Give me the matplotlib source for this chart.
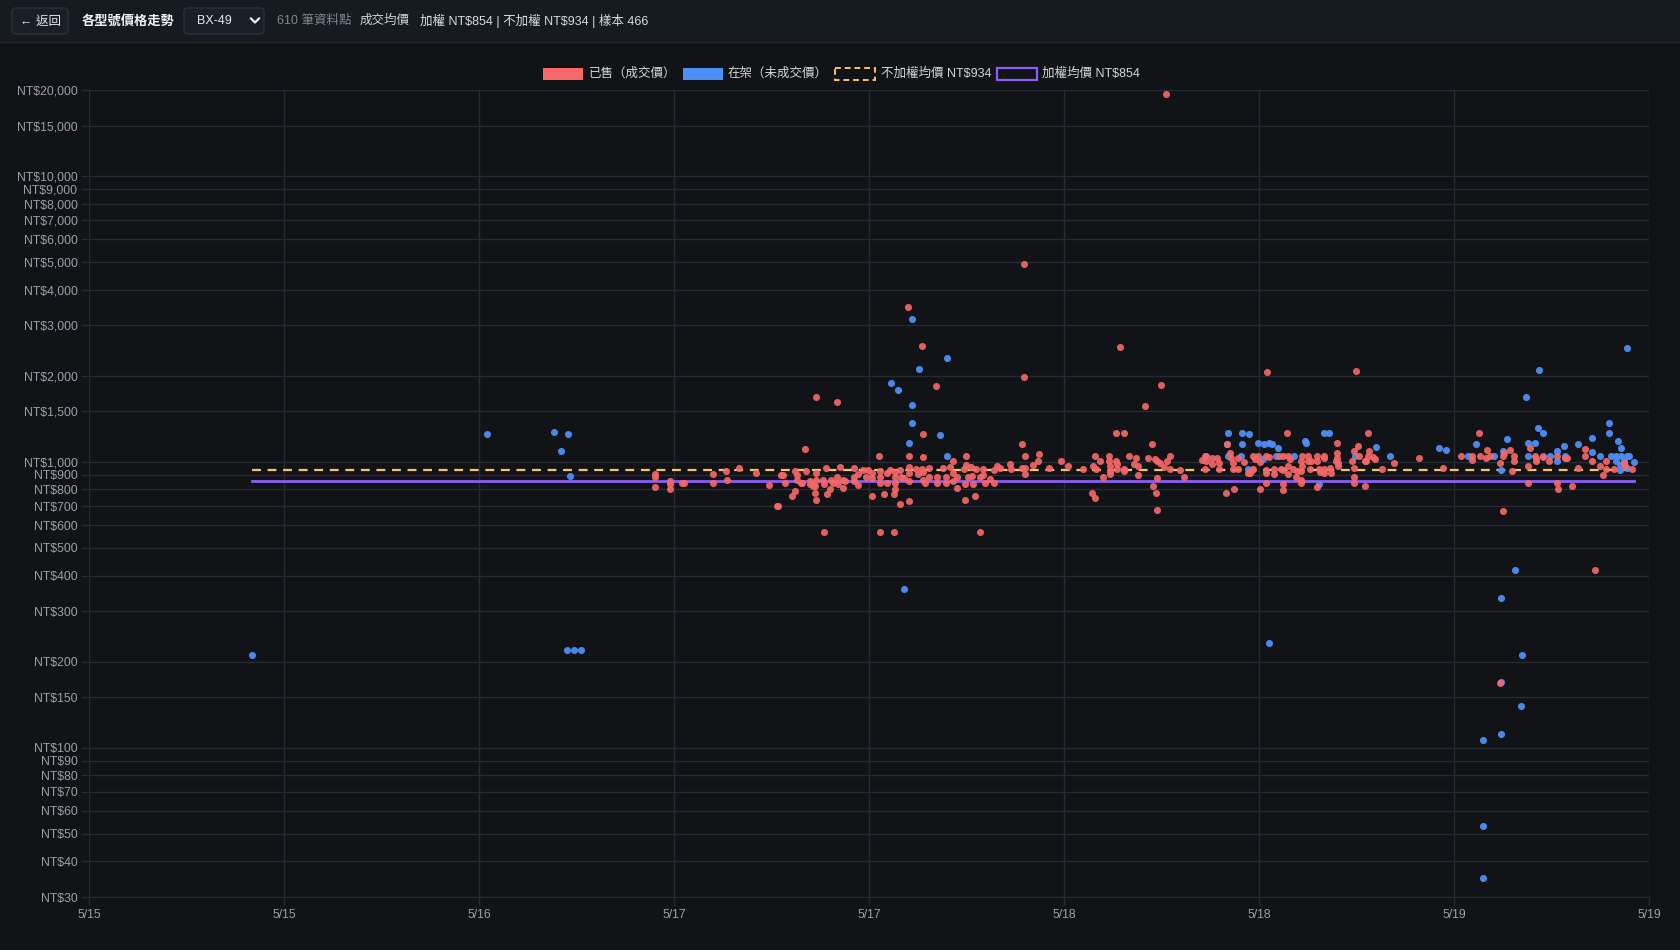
import numpy as np
import matplotlib
matplotlib.use('Agg')
import matplotlib.pyplot as plt
from matplotlib.patches import Rectangle, FancyBboxPatch
from matplotlib.ticker import FixedLocator, FuncFormatter, NullLocator

plt.rcParams['font.family'] = ['Liberation Sans', 'Noto Sans CJK TC', 'DejaVu Sans']

# ---- data (hours since 5/15 00:00, price in NT$) ----
sold_hours = [
    83.3, 73.1, 64.8, 65.8, 73.1, 66.8, 80.0, 90.6, 97.0, 83.0, 81.8, 58.2,
    59.7, 58.8, 62.8, 63.8, 70.0, 107.5, 114.1, 82.7, 55.5, 107.3, 65.9,
    46.6, 46.6, 46.6, 47.7, 47.7, 47.7, 48.6, 48.7, 50.8, 50.8, 51.7, 51.8,
    52.7, 53.9, 54.8, 55.4, 55.7, 55.8, 56.0, 56.7, 56.8, 56.8, 56.7, 56.5,
    57.4, 57.5, 57.1, 57.2, 57.8, 57.8, 58.0, 58.2, 58.1, 58.1, 58.2, 58.2,
    58.7, 58.8, 58.9, 59.0, 59.2, 59.3, 59.4, 59.7, 59.8, 59.9, 60.1, 60.1, 60.3,
    62.7, 64.9, 65.9, 69.0, 68.0, 73.0, 73.2, 74.2, 74.1, 73.8, 72.1, 72.2,
    73.0, 73.2, 73.2, 74.9, 60.9, 60.9, 60.9, 61.2, 61.2, 61.6, 61.8, 61.9,
    62.2, 62.2, 62.2, 62.8, 62.8, 62.8, 63.3, 63.3, 63.1, 63.5, 63.9, 63.9,
    63.9, 63.9, 63.8, 64.2, 64.3, 64.2, 64.5, 64.9, 64.9, 64.9, 64.9, 65.4,
    65.5, 65.8, 65.9, 65.9, 66.0, 66.3, 66.3, 66.9, 66.9, 67.3, 67.5, 67.5,
    67.8, 68.0, 68.0, 68.3, 68.3, 68.8, 68.9, 68.9, 69.0, 69.1, 69.3, 69.4,
    69.6, 69.5, 69.7, 70.0, 70.2, 70.2, 70.3, 70.7, 71.0, 71.0, 71.2, 71.4,
    75.8, 76.3, 77.4, 78.0, 78.2, 78.2, 78.1, 78.3, 78.6, 78.8, 79.2, 79.2,
    79.3, 79.3, 79.3, 79.7, 80.3, 79.7, 79.8, 79.8, 80.3, 80.3, 80.7, 81.0,
    81.2, 81.3, 81.3, 82.0, 82.3, 82.4, 82.5, 82.7, 82.9, 82.6, 82.7, 83.2,
    83.4, 83.6, 83.6, 84.3, 84.6, 85.9, 86.1, 86.1, 86.2, 86.6, 86.6, 87.0,
    87.1, 87.1, 87.6, 88.2, 87.7, 87.9, 88.0, 88.1, 88.1, 88.5, 88.5, 88.9, 89.2,
    92.0, 97.8, 95.6, 97.1, 96.8, 89.6, 89.7, 89.9, 90.1, 89.6, 89.35, 89.5,
    90.1, 90.5, 90.7, 90.5, 90.5, 90.5, 91.1, 91.1, 91.45, 91.7, 91.6, 91.7,
    91.7, 91.7, 92.1, 92.2, 92.1, 92.1, 92.45, 92.7, 92.65, 93.1, 93.05, 93.1,
    93.05, 93.05, 93.05, 93.5, 93.5, 93.7, 93.65, 94.2, 94.2, 94.3, 94.4, 94.2,
    94.65, 94.7, 94.65, 94.65, 95.1, 95.2, 95.6, 95.6, 95.7, 95.7, 95.55, 96.7,
    96.8, 96.8, 96.8, 97.2, 97.6, 97.7, 97.9, 97.8, 97.6, 98.2, 98.3, 98.8,
    99.7, 101.5, 103.2,
    104.5, 105.3, 105.3, 105.8, 105.9, 106.3, 106.4, 106.6, 107.3, 107.5, 107.6, 108.0,
    108.2, 108.3, 108.3, 109.3, 109.3, 109.45, 109.85, 109.9, 109.9, 110.4, 110.85, 111.4,
    111.4, 111.45, 111.95, 112.1, 112.45, 112.9, 113.4, 113.4, 113.9, 114.5, 114.7, 114.9,
    114.9, 115.5, 116.2, 116.25, 116.8,
]
sold_prices = [
    19300, 4930, 3490, 2540, 1980, 1840, 2520, 2070, 2080, 1860, 1570, 1680,
    1620, 566, 566, 566, 566, 673, 419, 678, 702, 168, 1255,
    905, 885, 818, 860, 833, 806, 845, 845, 909, 842, 927, 865,
    948, 915, 829, 700, 898, 898, 842, 927, 898, 865, 790, 759,
    1111, 927, 842, 842, 856, 838, 822, 911, 822, 779, 738, 865,
    865, 833, 948, 773, 800, 865, 845, 885, 833, 957, 810, 865, 854,
    1052, 1052, 1037, 1052, 1010, 1156, 1052, 1062, 1010, 974, 985, 946,
    948, 948, 905, 948, 948, 885, 854, 831, 907, 937, 885, 937,
    915, 879, 759, 930, 885, 845, 911, 845, 769, 937, 920, 885,
    845, 804, 773, 937, 883, 714, 879, 957, 915, 854, 728, 946,
    905, 946, 865, 918, 845, 948, 885, 845, 885, 948, 885, 845,
    957, 915, 854, 885, 808, 946, 738, 833, 972, 885, 957, 889,
    759, 833, 946, 885, 941, 898, 845, 869, 845, 934, 966, 948,
    1010, 970, 946, 779, 750, 1052, 966, 946, 1010, 883, 1052, 1010,
    970, 930, 907, 1263, 1263, 1010, 985, 941, 946, 927, 1052, 985,
    1033, 970, 898, 1033, 1156, 822, 1025, 1005, 990, 779, 877, 957,
    1010, 1047, 946, 939, 887, 1018, 1052, 946, 1005, 1033, 985, 1033,
    993, 946, 779, 804, 1156, 1075, 1033, 993, 946, 1033, 946, 1000, 915,
    1263, 1263, 1165, 1133, 1095, 1052, 1020, 1052, 997, 941, 915, 934,
    800, 1052, 1042, 937, 911, 845, 946, 905, 1052, 1052, 946, 937,
    837, 795, 1052, 1020, 966, 905, 946, 927, 885, 1052, 1010, 966,
    927, 865, 845, 1052, 1010, 1010, 946, 1052, 1010, 946, 920, 818,
    1052, 1033, 946, 915, 948, 915, 1075, 1033, 993, 966, 1010, 1010,
    952, 885, 845, 1052, 1010, 1010, 1095, 1052, 822, 1040, 1025, 946,
    993, 1030, 948,
    1052, 1047, 1015, 1263, 1052, 1030, 1100, 1052, 990, 1052, 1075, 1100,
    927, 1052, 1005, 842, 970, 1122, 1052, 1003, 1030, 1040, 1010, 1052,
    845, 804, 1033, 1030, 820, 948, 1052, 1111, 1010, 966, 896, 1003,
    946, 946, 993, 966, 946,
]

listed_hours = [
    17.7, 34.6, 39.4, 40.4, 39.9, 40.5, 40.3, 40.8, 41.3, 65.1, 65.6, 67.6,
    63.6, 64.1, 65.1, 65.1, 67.1, 64.9, 64.5, 67.6, 90.7, 109.2, 110.1, 116.4,
    108.4, 107.4, 108.9, 107.4, 108.8, 106.1, 107.4, 106.1, 106.1,
    87.8, 88.8, 89.3, 88.8, 87.7, 88.7, 87.8, 89.2, 86.2,
    89.9, 90.35, 90.7, 90.9, 91.4, 93.3, 93.4, 94.7, 95.0, 98.4, 99.4, 102.9,
    103.4, 91.2, 92.5, 90.3, 94.3, 96.9,
    105.0, 105.6, 106.9, 107.5, 107.8, 107.4, 109.3, 109.3, 109.8, 110.0, 110.4, 110.4,
    110.9, 111.4, 111.4, 111.9, 112.0, 112.9, 113.9, 113.9, 114.5, 115.1, 115.1, 115.75,
    116.0, 115.3, 115.6, 116.0, 116.4, 116.6, 115.6, 115.9, 115.9, 116.2, 116.4, 116.95,
]
listed_prices = [
    210, 1250, 1270, 1250, 1090, 894, 219, 219, 219, 3150, 2120, 2310,
    1890, 1780, 1580, 1370, 1240, 1160, 358, 1050, 233, 1680, 2100, 2510,
    419, 334, 210, 169, 140, 106, 112, 53, 35,
    1263, 1263, 1250, 1156, 1156, 1052, 1052, 946, 1052,
    1165, 1156, 1165, 1156, 1122, 1182, 1165, 1263, 1263, 1125, 1052, 1117,
    1100, 1052, 1052, 1025, 833, 1052,
    1052, 1156, 1052, 1090, 1205, 934, 1165, 1052, 1165, 1315, 1263, 1052,
    1052, 1090, 1010, 1133, 1052, 1153, 1210, 1085, 1052, 1369, 1263, 1185,
    1117, 1052, 1052, 1052, 1052, 1052, 1010, 974, 934, 1005, 952, 997,
]

weighted_avg = 854
unweighted_avg = 934
sample_n = 466
total_points = 610
model = "BX-49"

y_ticks = [30, 40, 50, 60, 70, 80, 90, 100, 150, 200, 300, 400, 500, 600, 700,
           800, 900, 1000, 1500, 2000, 3000, 4000, 5000, 6000, 7000, 8000,
           9000, 10000, 15000, 20000]
x_ticks = [6, 20, 34, 48, 62, 76, 90, 104, 118]
x_tick_labels = ["5/15", "5/15", "5/16", "5/17", "5/17", "5/18", "5/18", "5/19", "5/19"]

# ---- style ----
BG = "#111317"
HEADER_BG = "#161a21"
GRID = "#272b35"
TICK_TXT = "#9aa0a9"
LEG_TXT = "#d3d6db"
RED = "#f86868"
BLUE = "#4d8ef8"
YELLOW = "#f5c46a"
PURPLE = "#8b5cf6"

W, H = 1680, 950
fig = plt.figure(figsize=(W / 100, H / 100), dpi=100, facecolor=BG)

# main plot area (pixel box 89..1649 x 90..897)
ax = fig.add_axes([89 / W, 1 - 897 / H, 1560 / W, 807 / H])
ax.set_facecolor(BG)
ax.set_yscale('log')
ax.set_ylim(30, 20000)
ax.set_xlim(6, 118)

ax.yaxis.set_major_locator(FixedLocator(y_ticks))
ax.yaxis.set_minor_locator(NullLocator())
ax.yaxis.set_major_formatter(FuncFormatter(lambda v, p: f"NT${int(round(v)):,}"))
ax.set_xticks(x_ticks)
ax.set_xticklabels(x_tick_labels)
ax.xaxis.set_minor_locator(NullLocator())

ax.grid(True, color=GRID, linewidth=1.0)
ax.set_axisbelow(True)
ax.tick_params(axis='both', colors=GRID, labelcolor=TICK_TXT, labelsize=8.8,
               length=5.8, width=1.0, pad=2.5)
for side in ['top', 'right']:
    ax.spines[side].set_visible(False)
for side in ['left', 'bottom']:
    ax.spines[side].set_color(GRID)

# average lines across the data span
all_h = np.array(sold_hours + listed_hours)
x_span = [all_h.min(), all_h.max()]
ax.plot(x_span, [unweighted_avg] * 2, color=YELLOW, linewidth=1.6,
        dashes=(4, 3), zorder=2)
ax.plot(x_span, [weighted_avg] * 2, color=PURPLE, linewidth=2.0, zorder=2)

ax.scatter(listed_hours, listed_prices, s=26, color=BLUE, alpha=0.95,
           linewidths=0, zorder=3)
ax.scatter(sold_hours, sold_prices, s=26, color=RED, alpha=0.9,
           linewidths=0, zorder=4)

# ---- overlay for header and legend (pixel coordinates) ----
ov = fig.add_axes([0, 0, 1, 1])
ov.set_xlim(0, W)
ov.set_ylim(H, 0)
ov.axis('off')
ov.patch.set_alpha(0)

ov.add_patch(Rectangle((0, 0), W, 42, facecolor=HEADER_BG, edgecolor='none'))
ov.plot([0, W], [42, 42], color="#252a33", linewidth=1)

ov.add_patch(FancyBboxPatch((12, 8), 56, 26, boxstyle="round,pad=0,rounding_size=4",
                            facecolor="#1a1e26", edgecolor="#2b303a", linewidth=1))
ov.text(40, 21.5, "← 返回", color="#e2e4e8", fontsize=9, ha='center', va='center')
ov.text(82, 21, "各型號價格走勢", color="#f1f2f4", fontsize=9.5, fontweight='bold',
        ha='left', va='center')

ov.add_patch(FancyBboxPatch((184, 8), 80, 26, boxstyle="round,pad=0,rounding_size=4",
                            facecolor="#1a1f2a", edgecolor="#2b303a", linewidth=1))
ov.text(197, 20.5, model, color="#e8eaee", fontsize=9, ha='left', va='center')
ov.plot([251, 255, 259], [18.5, 22.5, 18.5], color="#e8eaee", linewidth=1.6)

ov.text(277, 21, f"{total_points} 筆資料點", color="#80868f", fontsize=9,
        ha='left', va='center')
ov.text(360, 21, "成交均價", color="#cfd2d7", fontsize=9, ha='left', va='center')
ov.text(420, 21, f"加權 NT${weighted_avg} | 不加權 NT${unweighted_avg} | 樣本 {sample_n}",
        color="#d9dce1", fontsize=9, ha='left', va='center', parse_math=False)

# legend
leg_y = 74
ov.add_patch(Rectangle((543, leg_y - 6), 40, 12, facecolor=RED, edgecolor='none'))
ov.text(589, leg_y, "已售（成交價）", color=LEG_TXT, fontsize=9, ha='left', va='center')
ov.add_patch(Rectangle((683, leg_y - 6), 40, 12, facecolor=BLUE, edgecolor='none'))
ov.text(728, leg_y, "在架（未成交價）", color=LEG_TXT, fontsize=9, ha='left', va='center')
ov.add_patch(Rectangle((835, leg_y - 6), 40, 12, facecolor='none', edgecolor=YELLOW,
                       linewidth=1.4, linestyle=(0, (3, 2))))
ov.text(881, leg_y, f"不加權均價 NT${unweighted_avg}", color=LEG_TXT, fontsize=9,
        ha='left', va='center', parse_math=False)
ov.add_patch(Rectangle((997, leg_y - 6), 40, 12, facecolor='none', edgecolor=PURPLE,
                       linewidth=1.6))
ov.text(1042, leg_y, f"加權均價 NT${weighted_avg}", color=LEG_TXT, fontsize=9,
        ha='left', va='center', parse_math=False)

fig.savefig("out.png", dpi=100, facecolor=BG)
plt.close(fig)
